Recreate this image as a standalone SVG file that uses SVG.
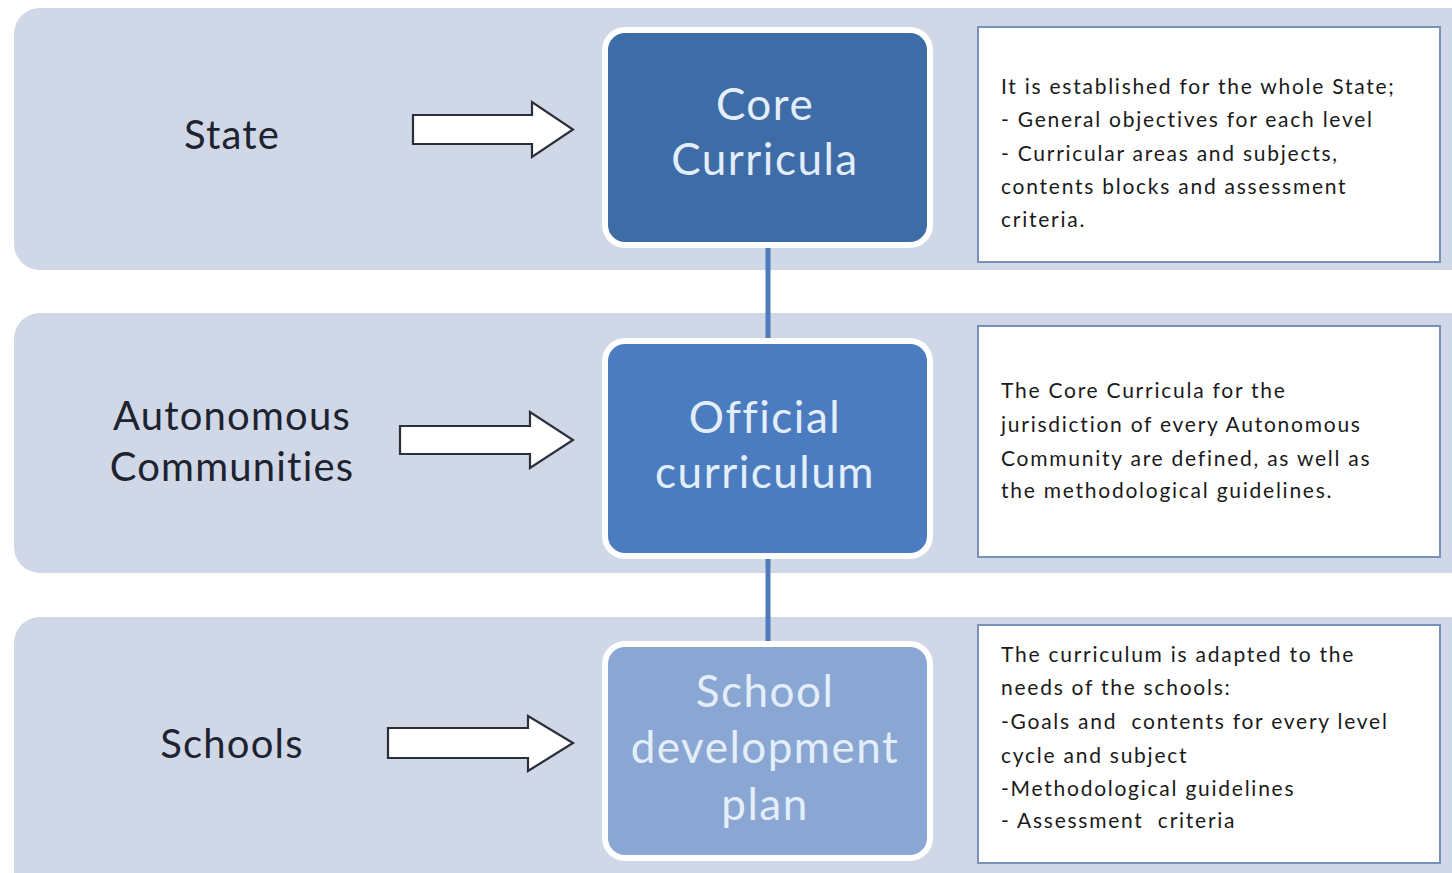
<svg xmlns="http://www.w3.org/2000/svg" width="1452" height="873" viewBox="0 0 1452 873">
<style>
.band{fill:#d0d7e6}
.lbl{font-family:Lato,"Liberation Sans",sans-serif;font-size:40px;letter-spacing:1.2px;fill:#1e2330;text-anchor:middle}
.ntx{font-family:Lato,"Liberation Sans",sans-serif;font-size:44px;letter-spacing:1.5px;fill:#e4eefa;text-anchor:middle}
.box{fill:#ffffff;stroke:#7890ba;stroke-width:2}
.dtx{font-family:Lato,"Liberation Sans",sans-serif;font-size:21px;letter-spacing:1.75px;fill:#1a1a1a}
.pre{white-space:pre}
.arr{fill:#ffffff;stroke:#2a2f3a;stroke-width:2.2;stroke-linejoin:miter}
.node{stroke:#ffffff;stroke-width:6}
.conn{stroke:#4f7bbd;stroke-width:5;fill:none}
</style>
<rect width="1452" height="873" fill="#ffffff"/>
<g id="bands">
<rect class="band" x="14" y="8" width="1480" height="262" rx="26"/>
<rect class="band" x="14" y="313" width="1480" height="260" rx="26"/>
<rect class="band" x="14" y="617" width="1480" height="290" rx="26"/>
</g>
<g id="connectors">
<line class="conn" x1="768" y1="245" x2="768" y2="340"/>
<line class="conn" x1="768" y1="556" x2="768" y2="643"/>
</g>
<g id="state">
<text class="lbl" x="232" y="149">State</text>
<path class="arr" d="M413,115 L532,115 L532,102 L573,129.5 L532,157 L532,144 L413,144 Z"/>
</g>
<g id="autonomous">
<text class="lbl" x="232" y="430">Autonomous</text>
<text class="lbl" x="232" y="481">Communities</text>
<path class="arr" d="M400,426 L530,426 L530,412 L573,440 L530,468 L530,454 L400,454 Z"/>
</g>
<g id="schools">
<text class="lbl" x="232" y="758">Schools</text>
<path class="arr" d="M388,728 L528,728 L528,716 L573,743 L528,771 L528,758 L388,758 Z"/>
</g>
<g id="core-curricula">
<rect class="node" x="605" y="30" width="325" height="215" rx="20" fill="#3d6ca7"/>
<text class="ntx" x="765" y="120">Core</text>
<text class="ntx" x="765" y="175">Curricula</text>
</g>
<g id="official-curriculum">
<rect class="node" x="605" y="341" width="325" height="215" rx="20" fill="#4a7cbf"/>
<text class="ntx" x="765" y="433">Official</text>
<text class="ntx" x="765" y="488">curriculum</text>
</g>
<g id="school-development-plan">
<rect class="node" x="605" y="644" width="325" height="214" rx="20" fill="#8aa6d2"/>
<text class="ntx" x="765" y="707">School</text>
<text class="ntx" x="765" y="763">development</text>
<text class="ntx" x="765" y="820">plan</text>
</g>
<g id="desc-state">
<rect class="box" x="978" y="27" width="462" height="235"/>
<text class="dtx" x="1001" y="94">It is established for the whole State;</text>
<text class="dtx" x="1001" y="127">- General objectives for each level</text>
<text class="dtx" x="1001" y="161">- Curricular areas and subjects,</text>
<text class="dtx" x="1001" y="194">contents blocks and assessment</text>
<text class="dtx" x="1001" y="227">criteria.</text>
</g>
<g id="desc-autonomous">
<rect class="box" x="978" y="326" width="462" height="231"/>
<text class="dtx" x="1001" y="398">The Core Curricula for the</text>
<text class="dtx" x="1001" y="432">jurisdiction of every Autonomous</text>
<text class="dtx" x="1001" y="466">Community are defined, as well as</text>
<text class="dtx" x="1001" y="498">the methodological guidelines.</text>
</g>
<g id="desc-schools">
<rect class="box" x="978" y="625" width="462" height="238"/>
<text class="dtx" x="1001" y="662">The curriculum is adapted to the</text>
<text class="dtx" x="1001" y="695">needs of the schools:</text>
<text class="dtx pre" x="1001" y="729">-Goals and  contents for every level</text>
<text class="dtx" x="1001" y="763">cycle and subject</text>
<text class="dtx" x="1001" y="796">-Methodological guidelines</text>
<text class="dtx pre" x="1001" y="828">- Assessment  criteria</text>
</g>
</svg>
